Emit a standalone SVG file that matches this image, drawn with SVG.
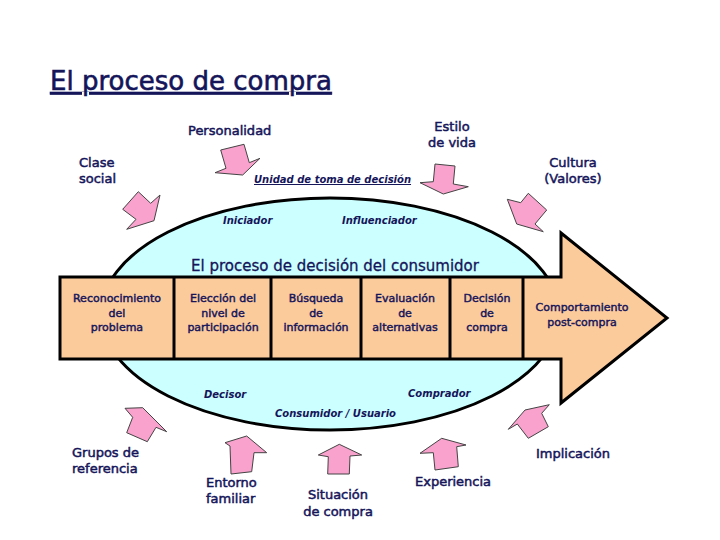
<svg xmlns="http://www.w3.org/2000/svg" width="720" height="540" viewBox="0 0 720 540">
<style>
.t{font-family:"DejaVu Sans","Verdana",sans-serif;fill:#15155a;}
.lab{font-size:13px;stroke:#15155a;stroke-width:0.5;}
.box{font-size:11px;text-anchor:middle;stroke:#15155a;stroke-width:0.45;}
.it{font-size:10px;font-weight:bold;font-style:italic;}
.pink{fill:#f8a2cd;stroke:#444;stroke-width:1;stroke-linejoin:miter;}
</style>
<rect width="720" height="540" fill="#ffffff"/>
<text class="t" x="50" y="90" font-size="26" text-decoration="underline" stroke="#15155a" stroke-width="0.6">El proceso de compra</text>

<g id="ellipse-unidad">
<ellipse cx="330" cy="314" rx="229" ry="116" fill="#ccffff" stroke="#000" stroke-width="3"/>
</g>

<g id="process-arrow">
<polygon points="60,277 561,277 561,233 667,318 561,403 561,359 60,359" fill="#fccb9c" stroke="#000" stroke-width="3" stroke-linejoin="miter"/>
<line x1="174" y1="277" x2="174" y2="359" stroke="#000" stroke-width="3"/>
<line x1="271" y1="277" x2="271" y2="359" stroke="#000" stroke-width="3"/>
<line x1="361" y1="277" x2="361" y2="359" stroke="#000" stroke-width="3"/>
<line x1="450" y1="277" x2="450" y2="359" stroke="#000" stroke-width="3"/>
<line x1="523" y1="277" x2="523" y2="359" stroke="#000" stroke-width="3"/>
</g>

<text class="t" x="335" y="271" font-size="15" text-anchor="middle" stroke="#15155a" stroke-width="0.3">El proceso de decisión del consumidor</text>

<g id="step-reconocimiento"><text class="t box" x="117" y="302">Reconocimiento</text><text class="t box" x="117" y="317">del</text><text class="t box" x="117" y="331">problema</text></g>
<g id="step-eleccion"><text class="t box" x="223" y="302">Elección del</text><text class="t box" x="223" y="317">nivel de</text><text class="t box" x="223" y="331">participación</text></g>
<g id="step-busqueda"><text class="t box" x="316" y="302">Búsqueda</text><text class="t box" x="316" y="317">de</text><text class="t box" x="316" y="331">información</text></g>
<g id="step-evaluacion"><text class="t box" x="405" y="302">Evaluación</text><text class="t box" x="405" y="317">de</text><text class="t box" x="405" y="331">alternativas</text></g>
<g id="step-decision"><text class="t box" x="487" y="302">Decisión</text><text class="t box" x="487" y="317">de</text><text class="t box" x="487" y="331">compra</text></g>
<g id="step-post"><text class="t box" x="582" y="311">Comportamiento</text><text class="t box" x="582" y="326">post-compra</text></g>

<g id="roles">
<text class="t it" x="254" y="183" text-decoration="underline">Unidad de toma de decisión</text>
<text class="t it" x="223" y="224">Iniciador</text>
<text class="t it" x="342" y="224">Influenciador</text>
<text class="t it" x="204" y="398">Decisor</text>
<text class="t it" x="408" y="397">Comprador</text>
<text class="t it" x="275" y="417">Consumidor / Usuario</text>
</g>

<g id="factor-personalidad"><text class="t lab" x="188" y="135">Personalidad</text></g>
<g id="factor-estilo"><text class="t lab" x="452" y="131" text-anchor="middle">Estilo</text><text class="t lab" x="452" y="147" text-anchor="middle">de vida</text></g>
<g id="factor-clase"><text class="t lab" x="79" y="167">Clase</text><text class="t lab" x="79" y="183">social</text></g>
<g id="factor-cultura"><text class="t lab" x="573" y="167" text-anchor="middle">Cultura</text><text class="t lab" x="573" y="183" text-anchor="middle">(Valores)</text></g>
<g id="factor-grupos"><text class="t lab" x="72" y="457">Grupos de</text><text class="t lab" x="72" y="473">referencia</text></g>
<g id="factor-entorno"><text class="t lab" x="206" y="487">Entorno</text><text class="t lab" x="206" y="503">familiar</text></g>
<g id="factor-situacion"><text class="t lab" x="338" y="499" text-anchor="middle">Situación</text><text class="t lab" x="338" y="516" text-anchor="middle">de compra</text></g>
<g id="factor-experiencia"><text class="t lab" x="415" y="486">Experiencia</text></g>
<g id="factor-implicacion"><text class="t lab" x="536" y="458">Implicación</text></g>

<g id="connectors">
<polygon class="pink" points="220.7,150 244,144.3 249.3,162.7 260,158.3 242.7,175 215,172.7 226,168.3"/>
<polygon class="pink" points="122.7,209.3 138.3,191.7 150.7,203.3 160,195 154,220.7 126.7,229.3 136,219.3"/>
<polygon class="pink" points="435,164 455,166 453.3,184 468.3,186.7 443.3,194 420,182.7 433.3,181.7"/>
<polygon class="pink" points="528.3,193.3 546.7,210 535,224 543.3,231.7 516.7,224 507.3,199.3 520.7,202.7"/>
<polygon class="pink" points="125,408.3 142.7,407.7 166.7,431.7 156,427.3 147.3,441.7 126.7,432.7 132.7,417.3"/>
<polygon class="pink" points="225,442.7 246.7,436 266.7,452.7 254,452.7 251.7,471.7 231,474 230,446"/>
<polygon class="pink" points="318.3,455 339.3,444.3 361.7,455 350,456 349.3,474 327.7,474 328.3,456.7"/>
<polygon class="pink" points="420,453.3 441.7,438.3 466,445 456.7,446.7 458.3,466.7 435,470 433.3,452.7"/>
<polygon class="pink" points="508.3,429.3 525,410 549.3,404.7 541.7,413.3 548.3,426.7 528.3,438.3 517.3,424"/>
</g>
</svg>
